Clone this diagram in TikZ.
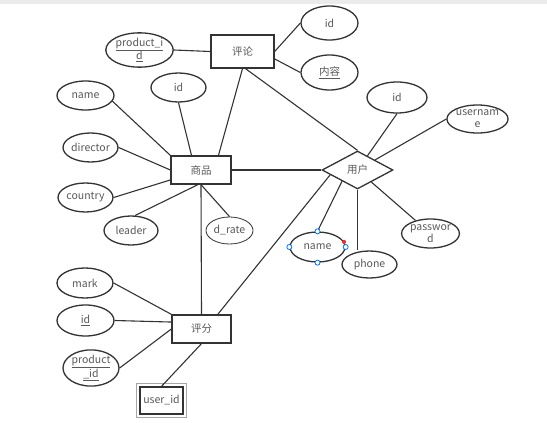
\documentclass[tikz,border=0pt]{standalone}
\usepackage{fontspec}
\setmainfont{Noto Sans CJK SC}
\usetikzlibrary{shapes.geometric,calc}

\begin{document}
\begin{tikzpicture}[x=1pt, y=-1pt,
    entity/.style={rectangle, draw=black!80, line width=1.3pt, fill=white, minimum width=60pt, minimum height=28pt, inner sep=0pt, font=\fontsize{10.5}{12}\selectfont, text=black!65},
    attr/.style={ellipse, draw=black!80, line width=1.3pt, fill=white, minimum width=56pt, minimum height=29pt, inner sep=0pt, align=center, font=\fontsize{10.5}{12}\selectfont, text=black!65},
    rel/.style={diamond, draw=black!80, line width=1.3pt, fill=white, minimum width=71pt, minimum height=38pt, inner sep=0pt, font=\fontsize{10.5}{12}\selectfont, text=black!65},
    link/.style={draw=black!80, line width=1.1pt},
    handle/.style={draw=blue!55!cyan, fill=white, line width=0.8pt}
]
\useasboundingbox (0,0) rectangle (547,423);
\fill[black!8] (0,0) rectangle (547,4);

\node[entity, minimum width=63pt, minimum height=33pt] (pl) at (242.5,51.5) {评论};
\node[attr, minimum width=57pt, minimum height=34pt] (plid) at (329.5,23) {id};
\node[attr, minimum width=57pt, minimum height=35pt] (plnr) at (329.5,72.5) {\underline{内容}};
\node[attr, minimum width=65pt, minimum height=26pt] (plpid) at (139.5,50) {\underline{product\_i}\\\underline{d}};

\node[entity] (sp) at (201,170) {商品};
\node[attr, minimum width=55pt] (spid) at (178.5,87.5) {id};
\node[attr, minimum width=57pt] (spname) at (85.5,95.5) {name};
\node[attr, minimum width=55pt] (spdir) at (90.5,147.5) {director};
\node[attr, minimum width=55pt] (spcty) at (85.5,197.5) {country};
\node[attr, minimum width=54pt] (spld) at (131,230.5) {leader};
\node[attr, line width=0.8pt, minimum width=47pt, minimum height=27pt] (sprate) at (229.5,230.5) {d\_rate};

\node[rel] (yh) at (357.5,170) {用户};
\node[attr, minimum width=60pt, minimum height=31pt] (yhid) at (397,97.5) {id};
\node[attr, minimum width=61pt, minimum height=28pt] (yhun) at (477.5,119) {usernam\\e};
\node[attr, minimum width=55pt] (yhpw) at (430.5,233.5) {passwor\\d};
\node[attr, minimum width=55pt, minimum height=27pt] (yhph) at (369.5,264.5) {phone};
\node[attr, minimum width=55pt, minimum height=30pt] (yhnm) at (317.5,247) {name};

\node[entity, minimum width=59pt] (pf) at (201.5,329) {评分};
\node[attr, minimum width=56pt, minimum height=30pt] (pfmk) at (85,283) {mark};
\node[attr, minimum width=57pt, minimum height=31pt] (pfid) at (85.5,320.5) {\underline{id}};
\node[attr, minimum width=56pt, minimum height=30pt] (pfpid) at (91,368) {\underline{product}\\\underline{\_id}};
\node[entity, minimum width=43pt, minimum height=27pt] (uid) at (161.5,400.5) {user\_id};
\draw[gray!70, line width=1.5pt] ($(uid.north west)+(-3,-3)$) rectangle ($(uid.south east)+(3,3)$);

\foreach \a/\b in {pl.west/plpid.east, pl.east/plid.west, pl.-13/plnr.west, pl.south/sp.40, pl.-80/yh.north,
    spid.south/sp.123, spname.-12/sp.north west, spdir.east/sp.west, spcty.east/sp.198,
    sp.-102/spld.75, sp.south/sprate.north, sp.south/pf.north, sp.east/yh.west,
    yh/yhid.south, yh/yhun.west, yh/yhpw, yh.south/yh.south |- yhph.north, yh.-144/yhnm.north, yh.-170/pf.42,
    pfmk.east/pf.north west, pfid.east/pf.167, pfpid.east/pf.west, pf.south/uid.north}
    \draw[link] (\a) -- (\b);

\fill[red!85] (yhnm.11) circle (2);
\foreach \s in {north, south, east, west}
    \draw[handle] (yhnm.\s) circle (2.5);
\end{tikzpicture}
\end{document}
